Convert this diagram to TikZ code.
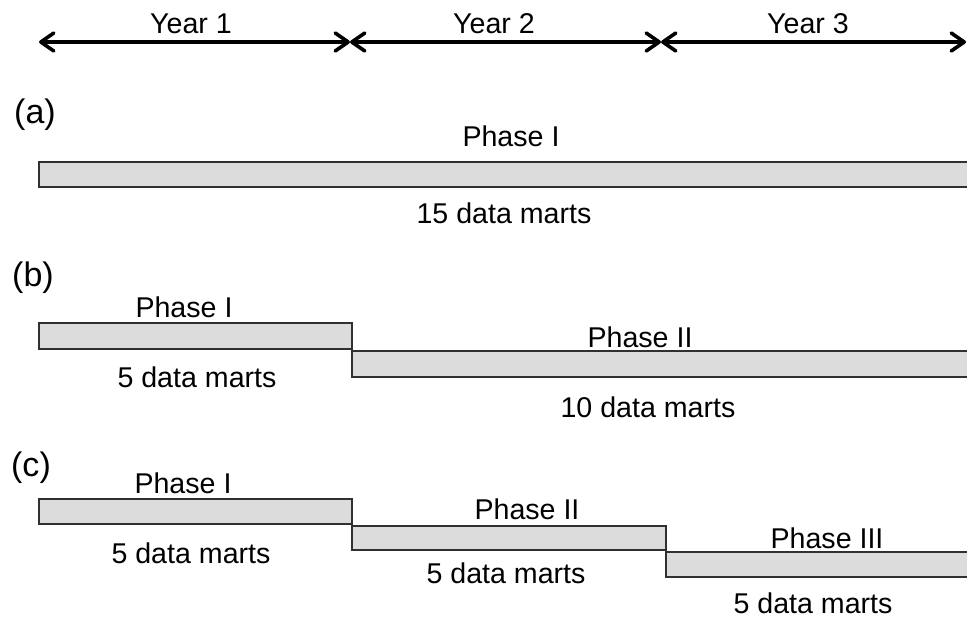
\documentclass[tikz,border=0pt]{standalone}
\usepackage{fontspec}
\setmainfont{Liberation Sans}
\usepackage{tikz}
\usetikzlibrary{arrows.meta}
\usetikzlibrary{positioning}
\definecolor{BarFill}{HTML}{DCDCDC}
\definecolor{BarEdge}{HTML}{303030}

\tikzset{
  yeararrow/.style={line width=1.8pt, {Straight Barb[length=6.5pt,width=9pt,round]}-{Straight Barb[length=6.5pt,width=9pt,round]}},
  bar/.style={draw=BarEdge, fill=BarFill, line width=0.6pt},
  lbl/.style={font=\fontsize{14.3pt}{17pt}\selectfont, anchor=base, inner sep=0pt},
  tag/.style={font=\fontsize{17pt}{20pt}\selectfont, anchor=base, inner sep=0pt}
}

\begin{document}
\begin{tikzpicture}[x=0.5pt, y=-0.5pt]
    \useasboundingbox (0,0) rectangle (967,622);
    % Years
    \coordinate (t0) at (39,42);
    \coordinate (t1) at (350,42);
    \coordinate (t2) at (661,42);
    \coordinate (t3) at (966,42);
    \draw[yeararrow] (t0) -- (t1);
    \draw[yeararrow] (t1) -- (t2);
    \draw[yeararrow] (t2) -- (t3);
    \node[lbl] (year1) at (191,33) {Year 1};
    \node[lbl] (year2) at (494,33) {Year 2};
    \node[lbl] (year3) at (808,33) {Year 3};
    % (a)
    \node[tag] (taga) at (35,123) {(a)};
    \draw[bar] (39,162) rectangle (990,187);
    \node[lbl] (phaseA) at (511,146) {Phase I};
    \node[lbl] (martsA) at (504,223) {15 data marts};
    % (b)
    \node[tag] (tagb) at (33,286) {(b)};
    \draw[bar] (39,323) rectangle (352,349);
    \draw[bar] (352,351) rectangle (990,377);
    \node[lbl] (phaseBi) at (184,317) {Phase I};
    \node[lbl] (martsBi) at (197,387) {5 data marts};
    \node[lbl] (phaseBii) at (640,347) {Phase II};
    \node[lbl] (martsBii) at (648,417) {10 data marts};
    % (c)
    \node[tag] (tagc) at (31,476) {(c)};
    \draw[bar] (39,499) rectangle (352,524);
    \draw[bar] (352,526) rectangle (666,550);
    \draw[bar] (666,552) rectangle (990,577);
    \node[lbl] (phaseCi) at (183,493) {Phase I};
    \node[lbl] (martsCi) at (191,563) {5 data marts};
    \node[lbl] (phaseCii) at (527,519) {Phase II};
    \node[lbl] (martsCii) at (506,583) {5 data marts};
    \node[lbl] (phaseCiii) at (827,548) {Phase III};
    \node[lbl] (martsCiii) at (813,613) {5 data marts};
\end{tikzpicture}
\end{document}
